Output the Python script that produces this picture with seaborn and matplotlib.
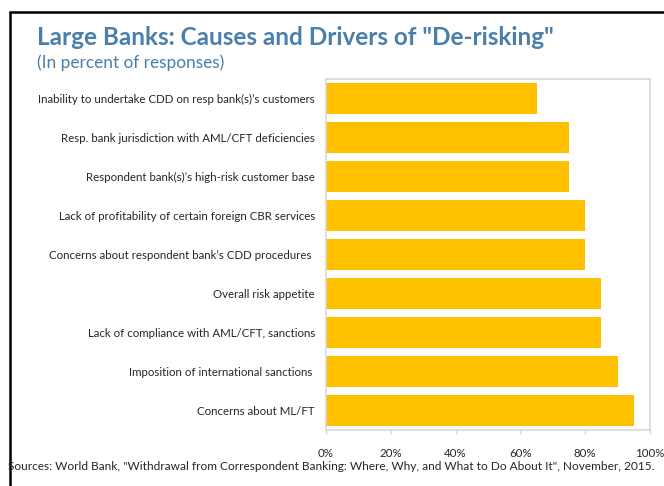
import matplotlib
matplotlib.use("Agg")
import matplotlib.pyplot as plt
from matplotlib.lines import Line2D
from matplotlib.ticker import FuncFormatter
import seaborn as sns
import pandas as pd

causes = [
    "Inability to undertake CDD on resp bank(s)'s customers",
    "Resp. bank jurisdiction with AML/CFT deficiencies",
    "Respondent bank(s)'s high-risk customer base",
    "Lack of profitability of certain foreign CBR services",
    "Concerns about respondent bank's CDD procedures ",
    "Overall risk appetite",
    "Lack of compliance with AML/CFT, sanctions",
    "Imposition of international sanctions ",
    "Concerns about ML/FT",
]
causes = [c.replace("'", "\u2019") for c in causes]
shares = [65, 75, 75, 80, 80, 85, 85, 90, 95]
x_ticks = [0, 20, 40, 60, 80, 100]

df = pd.DataFrame({"cause": causes, "share": shares})

sns.set_theme(style="white")
plt.rcParams["font.family"] = ["Lato", "DejaVu Sans"]

W, H = 664, 486
fig = plt.figure(figsize=(W / 100, H / 100), dpi=100)
ax = fig.add_axes([326 / W, 1 - 430 / H, (650 - 326) / W, (430 - 79) / H])

sns.barplot(data=df, x="share", y="cause", color="#FFC000", saturation=1,
            width=0.8, edgecolor="none", ax=ax)

ax.set_xlim(0, 100)
ax.set_xticks(x_ticks)
ax.xaxis.set_major_formatter(FuncFormatter(lambda v, p: f"{v:.0f}%"))
ax.set_xlabel("")
ax.set_ylabel("")
ax.tick_params(axis="x", colors="#d9d9d9", labelcolor="#262626", labelsize=8.3,
               length=3, width=1, direction="out", pad=10, bottom=True)
ax.tick_params(axis="y", length=0, labelsize=8.3, labelcolor="#262626", pad=8)
for s in ax.spines.values():
    s.set_color("#d9d9d9")
    s.set_linewidth(1.2)

fig.text(37 / W, 1 - 45 / H, "Large Banks: Causes and Drivers of \"De-risking\"",
         fontsize=17.5, fontweight="bold", color="#4a7eab")
fig.text(37 / W, 1 - 68 / H, "(In percent of responses)",
         fontsize=12.4, color="#4a7eab")
fig.text(8 / W, 1 - 470 / H,
         "Sources: World Bank, \"Withdrawal from Correspondent Banking: Where, Why, and What to Do About It\", November, 2015.",
         fontsize=8.6, color="#262626")

# outer frame (left and top edges)
fig.add_artist(Line2D([10 / W, 10 / W], [0, 1 - 12 / H], color="black", lw=1.8,
                      transform=fig.transFigure))
fig.add_artist(Line2D([10 / W, 1], [1 - 12 / H, 1 - 12 / H], color="black", lw=1.8,
                      transform=fig.transFigure))

fig.savefig("out.png", dpi=100)
